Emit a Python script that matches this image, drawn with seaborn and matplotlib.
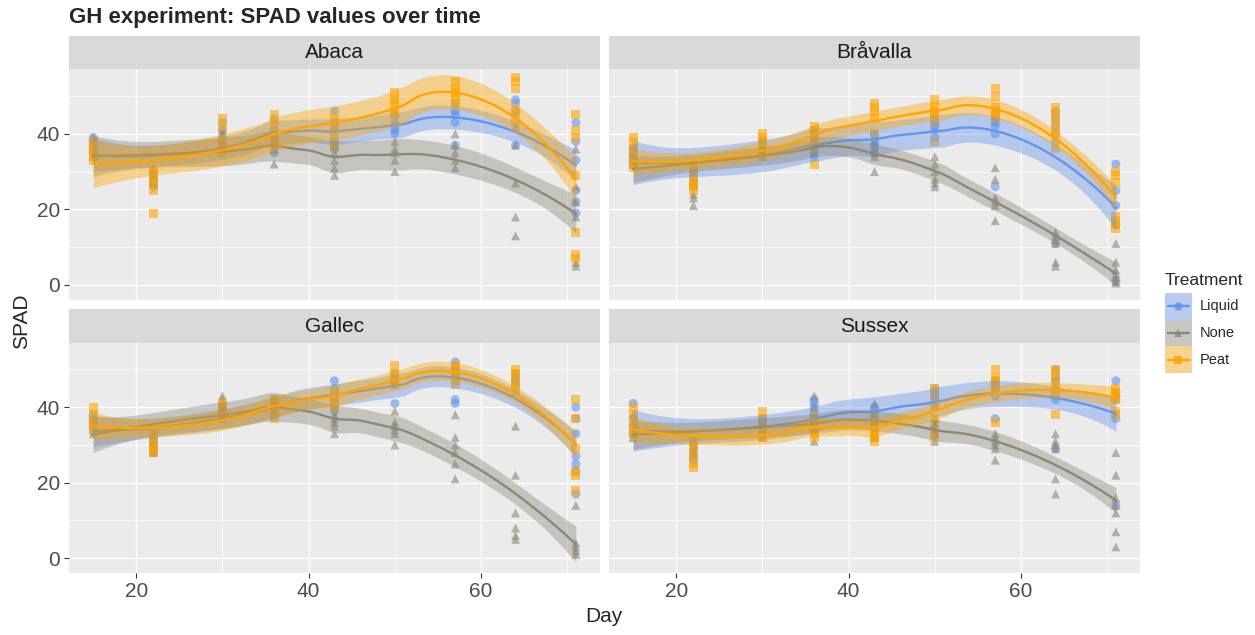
import numpy as np
import pandas as pd
import matplotlib
matplotlib.use("Agg")
import matplotlib.pyplot as plt
import seaborn as sns
from matplotlib.patches import Rectangle

# -----------------------------------------------------------
# DATA (SPAD readings per day)
# -----------------------------------------------------------
days = [15, 22, 30, 36, 43, 50, 57, 64, 71]
varieties = ["Abaca", "Bråvalla", "Gallec", "Sussex"]
treatments = ["Liquid", "None", "Peat"]

abaca_liquid = [[39, 38, 37, 36, 35], [30, 29, 28, 27, 26], [43, 41, 39, 37, 36],
                [44, 41, 39, 37, 35], [46, 43, 41, 38, 36], [45, 43, 42, 41, 40],
                [48, 46, 45, 43, 37], [49, 48, 46, 45, 37], [43, 38, 33, 25, 22, 19]]
abaca_none = [[39, 38, 36, 35, 34], [31, 30, 29, 28, 27], [41, 40, 38, 37, 36],
              [40, 38, 37, 36, 32], [37, 35, 33, 31, 29], [38, 36, 35, 33, 30],
              [40, 37, 35, 33, 31], [42, 37, 27, 18, 13], [36, 26, 22, 18, 6, 5]]
abaca_peat = [[38, 36, 35, 34, 33], [30, 28, 27, 25, 19], [44, 42, 38, 36, 35],
              [45, 43, 41, 39, 37], [44, 42, 40, 38, 37], [51, 49, 48, 46, 45],
              [54, 52, 51, 50, 48], [55, 54, 52, 46, 43], [45, 41, 39, 29, 14, 8, 7]]

bravalla_liquid = [[36, 35, 34, 33, 32], [30, 28, 27, 26], [38, 37, 36, 35],
                   [41, 39, 37, 35, 34], [40, 38, 37, 36, 35], [45, 43, 42, 41, 39],
                   [45, 44, 43, 42, 40, 26], [46, 44, 42, 40, 38, 11], [32, 25, 21, 16, 1]]
bravalla_none = [[37, 35, 34, 33, 32], [30, 27, 24, 23, 21], [37, 36, 35, 34],
                 [40, 39, 38, 36, 35], [38, 36, 35, 34, 30], [34, 32, 30, 28, 27, 26],
                 [31, 28, 23, 22, 21, 17], [14, 13, 12, 11, 6, 5], [11, 6, 4, 3, 2, 1, 0.5]]
bravalla_peat = [[39, 38, 36, 34, 32, 31], [31, 30, 28, 27, 26, 25], [40, 39, 38, 37, 36],
                 [42, 41, 39, 36, 32], [48, 47, 46, 44, 40], [49, 47, 46, 45, 43, 38],
                 [52, 50, 47, 46, 45, 44], [47, 45, 44, 42, 40, 36], [30, 29, 27, 18, 17, 16, 15]]

gallec_liquid = [[38, 37, 36, 35], [32, 31, 30, 29, 28], [40, 39, 38, 37],
                 [42, 41, 40, 38], [47, 45, 43, 41, 39], [49, 47, 46, 41],
                 [52, 51, 49, 48, 42, 41], [49, 48, 47, 46, 44], [40, 37, 33, 27, 25, 23, 17]]
gallec_none = [[37, 36, 35, 34, 33], [33, 31, 30, 29, 28], [43, 42, 40, 38],
               [42, 41, 40, 39], [38, 37, 36, 35, 33], [39, 36, 35, 34, 33, 30],
               [38, 32, 30, 28, 25, 21], [35, 22, 12, 8, 6, 5], [14, 4, 3, 2, 1]]
gallec_peat = [[40, 38, 36, 35, 34], [33, 32, 30, 29, 28], [41, 40, 39, 38, 37],
               [42, 41, 39, 37], [44, 43, 42, 41, 40], [51, 49, 48, 47, 46],
               [51, 50, 49, 48, 47, 46], [50, 49, 48, 46, 45], [42, 37, 29, 23, 22, 18]]

sussex_liquid = [[41, 37, 35, 33], [31, 29, 27, 26], [37, 36, 35, 34],
                 [42, 41, 40, 38, 36], [40, 39, 37, 35, 32], [45, 44, 43, 42, 40],
                 [47, 46, 45, 43, 37], [50, 48, 47, 45, 42, 29], [47, 44, 43, 42, 37, 14]]
sussex_none = [[38, 36, 34, 33, 32], [31, 30, 29, 28], [35, 34, 33, 32],
               [43, 40, 37, 34, 31], [41, 38, 36, 34, 32], [37, 36, 35, 34, 33, 31],
               [33, 32, 31, 30, 29, 26], [33, 31, 30, 29, 21, 17], [28, 22, 16, 14, 12, 7, 3]]
sussex_peat = [[40, 38, 36, 34, 33], [31, 29, 27, 25, 24], [39, 37, 35, 33, 32],
               [38, 36, 34, 33, 32], [38, 36, 35, 33, 32, 31], [45, 43, 40, 37, 34, 32],
               [50, 48, 47, 46, 45, 36], [50, 49, 47, 45, 44, 38], [45, 44, 43, 42, 39, 38]]

readings = {
    ("Abaca", "Liquid"): abaca_liquid, ("Abaca", "None"): abaca_none, ("Abaca", "Peat"): abaca_peat,
    ("Bråvalla", "Liquid"): bravalla_liquid, ("Bråvalla", "None"): bravalla_none, ("Bråvalla", "Peat"): bravalla_peat,
    ("Gallec", "Liquid"): gallec_liquid, ("Gallec", "None"): gallec_none, ("Gallec", "Peat"): gallec_peat,
    ("Sussex", "Liquid"): sussex_liquid, ("Sussex", "None"): sussex_none, ("Sussex", "Peat"): sussex_peat,
}

colors = {"Liquid": "#6495ED", "None": "#8B8878", "Peat": "#FFA500"}
markers = {"Liquid": "o", "None": "^", "Peat": "s"}

# long table
rows = []
for (var, trt), per_day in readings.items():
    for d, vals in zip(days, per_day):
        for v in vals:
            rows.append({"Variety": var, "Treatment": trt, "Day": d, "SPAD": v})
df = pd.DataFrame(rows)


# -----------------------------------------------------------
# LOESS smoother (like geom_smooth: span 0.75, degree 2, 95% CI)
# -----------------------------------------------------------
def loess_band(x, y, grid, span=0.75):
    n = len(x)
    q = int(np.floor(n * span))

    def weights_row(x0):
        d = np.abs(x - x0)
        ds = np.sort(d)
        h = (ds[q - 1] + ds[min(q, n - 1)]) / 2 * 1.0001
        w = np.clip(1 - (d / h) ** 3, 0, None) ** 3
        X = np.column_stack([np.ones(n), x - x0, (x - x0) ** 2])
        XtW = X.T * w
        return np.linalg.solve(XtW @ X, XtW)[0]

    L = np.array([weights_row(v) for v in x])
    G = np.array([weights_row(v) for v in grid])
    res = y - L @ y
    IL = np.eye(n) - L
    M = IL.T @ IL
    d1 = np.trace(M)
    d2 = np.trace(M @ M)
    s = np.sqrt(res @ res / d1)
    dfree = d1 ** 2 / d2
    z = 1.959964
    t = z + (z ** 3 + z) / (4 * dfree) + (5 * z ** 5 + 16 * z ** 3 + 3 * z) / (96 * dfree ** 2)
    fit = G @ y
    se = s * np.sqrt((G ** 2).sum(axis=1))
    return fit, fit - t * se, fit + t * se


grid = np.linspace(min(days), max(days), 80)
fits = []
for (var, trt), sub in df.groupby(["Variety", "Treatment"]):
    fit, lo, hi = loess_band(sub["Day"].to_numpy(float), sub["SPAD"].to_numpy(float), grid)
    fits.append(pd.DataFrame({"Variety": var, "Treatment": trt, "Day": grid,
                              "fit": fit, "lo": lo, "hi": hi}))
fit_df = pd.concat(fits, ignore_index=True)

# -----------------------------------------------------------
# FIGURE
# -----------------------------------------------------------
sns.set_style("darkgrid")
plt.rcParams['font.family'] = ['Liberation Sans', 'DejaVu Sans']

W, H = 1255, 635
fig = plt.figure(figsize=(W / 100, H / 100), dpi=100)
fig.patch.set_facecolor("white")


def fx(px):
    return px / W


def fy(px):
    return 1 - px / H


col_x = [69, 609]
panel_w = 531
row_y = [(69.3, 300), (342.7, 573.3)]
strip_h = 33.4

for i, var in enumerate(varieties):
    r, c = divmod(i, 2)
    top, bottom = row_y[r]
    ax = fig.add_axes([fx(col_x[c]), fy(bottom), fx(panel_w), (bottom - top) / H])
    ax.set_facecolor("#EBEBEB")

    pts = df[df["Variety"] == var]
    sns.scatterplot(data=pts, x="Day", y="SPAD", hue="Treatment", style="Treatment",
                    palette=colors, markers=markers, hue_order=treatments,
                    s=42, alpha=0.6, linewidth=0, legend=False, ax=ax, zorder=3)

    fd = fit_df[fit_df["Variety"] == var]
    for k, trt in enumerate(treatments):
        g = fd[fd["Treatment"] == trt]
        ax.fill_between(g["Day"], g["lo"], g["hi"], color=colors[trt], alpha=0.4,
                        linewidth=0, zorder=4 + 2 * k)
        sns.lineplot(data=g, x="Day", y="fit", color=colors[trt], linewidth=1.7,
                     ax=ax, zorder=5 + 2 * k)

    ax.set_xlim(12.2, 73.8)
    ax.set_ylim(-4.0, 57.1)
    ax.set_xticks([20, 40, 60])
    ax.set_xticks([30, 50, 70], minor=True)
    ax.set_yticks([0, 20, 40])
    ax.set_yticks([10, 30, 50], minor=True)
    ax.grid(which="major", color="white", linewidth=1.0)
    ax.grid(which="minor", color="white", linewidth=0.55)
    ax.set_axisbelow(True)
    for sp in ax.spines.values():
        sp.set_visible(False)
    ax.set_xlabel("")
    ax.set_ylabel("")
    ax.tick_params(which="minor", length=0)
    ax.tick_params(which="major", length=3.3, width=0.8, color="#333333",
                   labelsize=15, labelcolor="#4D4D4D", pad=3)
    ax.tick_params(axis="x", bottom=(r == 1), labelbottom=(r == 1))
    ax.tick_params(axis="y", left=(c == 0), labelleft=(c == 0))

    # facet strip
    sax = fig.add_axes([fx(col_x[c]), fy(top), fx(panel_w), strip_h / H])
    sax.set_facecolor("#D9D9D9")
    sax.set_xticks([])
    sax.set_yticks([])
    sax.grid(False)
    for sp in sax.spines.values():
        sp.set_visible(False)
    sax.text(0.5, 0.5, var, ha="center", va="center", fontsize=15, color="#1A1A1A",
             transform=sax.transAxes)

# titles
fig.text(fx(69), fy(17), "GH experiment: SPAD values over time", fontsize=16,
         fontweight="bold", ha="left", va="center")
fig.text(fx(604), fy(617), "Day", fontsize=15, ha="center", va="center")
fig.text(fx(22), fy(321), "SPAD", fontsize=15, rotation=90, ha="center", va="center")

# legend, drawn by hand like ggplot's keys
key_left, key_top, key_size = 1165, 293, 26.7
lax = fig.add_axes([fx(key_left), fy(key_top + 3 * key_size), fx(key_size), 3 * key_size / H])
lax.set_xlim(0, 1)
lax.set_ylim(0, 3)
lax.axis("off")
for k, trt in enumerate(treatments):
    y0 = 2 - k
    lax.add_patch(Rectangle((0, y0), 1, 1, facecolor="#F2F2F2", edgecolor="none"))
    lax.add_patch(Rectangle((0, y0), 1, 1, facecolor=colors[trt], alpha=0.4, edgecolor="none"))
    lax.plot([0.1, 0.9], [y0 + 0.5, y0 + 0.5], color=colors[trt], linewidth=1.7)
    lax.plot([0.5], [y0 + 0.5], marker=markers[trt], color=colors[trt], markersize=6,
             markeredgewidth=0, alpha=0.8)
    fig.text(fx(key_left + key_size + 8), fy(key_top + key_size * (k + 0.5)), trt,
             fontsize=10.5, ha="left", va="center")
fig.text(fx(key_left), fy(281), "Treatment", fontsize=12.5, ha="left", va="center")

fig.savefig("out.png", dpi=100)
